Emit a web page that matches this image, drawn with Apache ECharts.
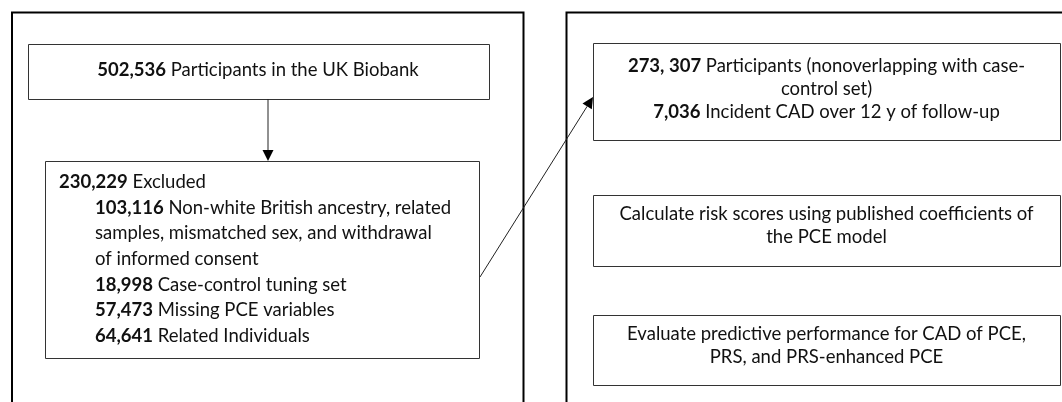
<!DOCTYPE html>
<html><head><meta charset="utf-8">
<script src="https://cdn.jsdelivr.net/npm/echarts@6/dist/echarts.min.js"></script>
<style>html,body{margin:0;padding:0;background:#fff}#c{width:1062px;height:402px}</style>
</head><body><div id="c"></div>
<script>
// ---- data ----
const totalCount = '502,536';
const totalLabel = 'Participants in the UK Biobank';
const excludedCount = '230,229';
const excludedLabel = 'Excluded';
const exclusionCounts = ['103,116', '', '', '18,998', '57,473', '64,641'];
const exclusionLabels = [
  'Non-white British ancestry, related',
  'samples, mismatched sex, and withdrawal',
  'of informed consent',
  'Case-control tuning set',
  'Missing PCE variables',
  'Related Individuals'
];
const cohortLines = [
  ['273, 307', 'Participants (nonoverlapping with case-'],
  ['', 'control set)'],
  ['7,036', 'Incident CAD over 12 y of follow-up']
];
const stepTexts = [
  ['Calculate risk scores using published coefficients of', 'the PCE model'],
  ['Evaluate predictive performance for CAD of PCE,', 'PRS, and PRS-enhanced PCE']
];

// ---- drawing ----
const FONT = 'Lato, "Open Sans", sans-serif';
const FS = 18.5;
const TXT = '#111';
const rich = { b: { fontWeight: 'bold', fontSize: FS, fontFamily: FONT, fill: TXT } };
function rt(num, label) { return (num ? '{b|' + num + '} ' : '') + label; }
function text(x, y, str, align) {
  return { type: 'text', x: x, y: y, z: 10,
    style: { text: str, rich: rich, fontSize: FS, fontFamily: FONT, fill: TXT,
      textAlign: align || 'center', textVerticalAlign: 'middle', verticalAlign: 'middle', align: align || 'center' } };
}
function box(x1, y1, x2, y2) {
  return { type: 'rect', shape: { x: x1 + 0.5, y: y1 + 0.5, width: x2 - x1, height: y2 - y1 },
    style: { fill: '#fff', stroke: '#333', lineWidth: 1 }, z: 5 };
}
function arrow(x1, y1, x2, y2) {
  const ang = Math.atan2(y2 - y1, x2 - x1);
  const L = 11, W = 5.5;
  const bx = x2 - L * Math.cos(ang), by = y2 - L * Math.sin(ang);
  const px = -Math.sin(ang) * W, py = Math.cos(ang) * W;
  return [
    { type: 'line', shape: { x1: x1, y1: y1, x2: bx, y2: by }, style: { stroke: '#222', lineWidth: 1 }, z: 6 },
    { type: 'polygon', shape: { points: [[x2, y2], [bx + px, by + py], [bx - px, by - py]] }, style: { fill: '#000' }, z: 7 }
  ];
}

const g = [];
// panels
g.push({ type: 'polyline', shape: { points: [[12, 402], [12, 12.5], [523.5, 12.5], [523.5, 402]] }, style: { stroke: '#000', lineWidth: 2, fill: null }, z: 1 });
g.push({ type: 'polyline', shape: { points: [[566.5, 402], [566.5, 12.5], [1062, 12.5]] }, style: { stroke: '#000', lineWidth: 2, fill: null }, z: 1 });

// left boxes
g.push(box(28, 44, 489, 99));
g.push(text(258, 70, rt(totalCount, totalLabel)));
g.push(...arrow(268, 99, 268, 161));
g.push(box(45, 161, 479, 358));
g.push(text(59, 182, rt(excludedCount, excludedLabel), 'left'));
exclusionLabels.forEach((l, i) => g.push(text(95, 207.7 + i * 25.7, rt(exclusionCounts[i], l), 'left')));

// connector
g.push(...arrow(480, 277, 593, 97));

// right boxes
g.push(box(593, 43, 1060, 140));
cohortLines.forEach((l, i) => g.push(text(826.5, 66 + i * 23, rt(l[0], l[1]))));
const stepBoxes = [[195, 266], [315, 385]];
stepTexts.forEach((t, k) => {
  g.push(box(593, stepBoxes[k][0], 1060, stepBoxes[k][1]));
  t.forEach((l, i) => g.push(text(826.5, stepBoxes[k][0] + 19 + i * 23.5, l)));
});

const chart = echarts.init(document.getElementById('c'), null, { renderer: 'canvas' });
chart.setOption({ backgroundColor: '#fff', animation: false, graphic: { elements: g } });
</script></body></html>
